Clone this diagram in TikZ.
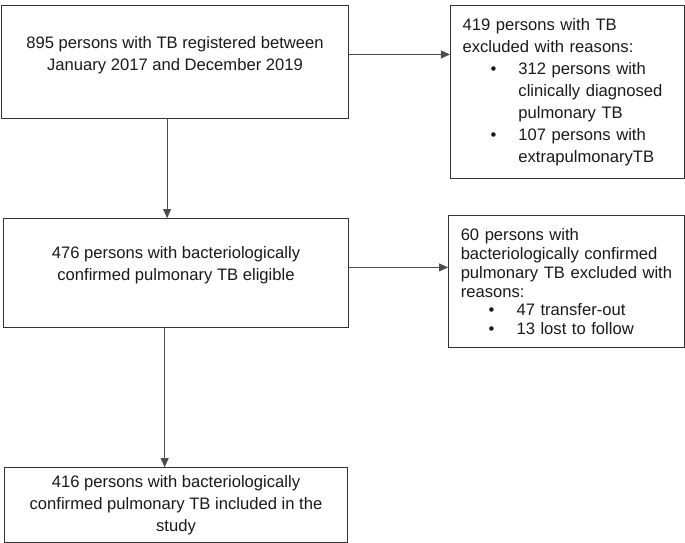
\documentclass[tikz,border=0pt]{standalone}
\usepackage{fontspec}
\setmainfont{Liberation Sans}
\usepackage{tikz}
\usetikzlibrary{
  arrows.meta,
  positioning,
  calc
}
\definecolor{fcLine}{HTML}{333333}
\definecolor{fcArrow}{HTML}{4D4D4D}
\definecolor{fcText}{HTML}{1A1A1A}
\newcommand{\fcitem}{\hspace*{21pt}\makebox[21pt][l]{\textbullet}}
\newcommand{\fchang}{\hspace*{42pt}}
\tikzset{
  fcnode/.style={
    draw=fcLine, line width=0.8pt, inner sep=0pt, text=fcText,
    font=\fontsize{12.5}{16.5}\selectfont
  },
  stepbox/.style={fcnode, align=center},
  exclbox/.style={fcnode, align=left, inner xsep=3.2mm},
  flow/.style={-{Triangle[length=2.4mm, width=2.1mm]}, line width=0.8pt, fcArrow}
}

\begin{document}
\begin{tikzpicture}[node distance=26mm]
  \useasboundingbox (0,0) rectangle (181.2mm,-143.4mm);
  \node[stepbox, anchor=north west, minimum width=91.8mm, minimum height=29.9mm, text depth=4.4mm] (reg) at (0.26mm,-1.32mm)
    {895 persons with TB registered between\\January 2017 and December 2019};
  \node[exclbox, text width=55.6mm, minimum height=45.8mm, right=26.7mm of reg.north east, anchor=north west] (excl1)
    {419 persons with TB\\
     excluded with reasons:\\
     \fcitem 312 persons with\\
     \fchang clinically diagnosed\\
     \fchang pulmonary TB\\
     \fcitem 107 persons with\\
     \fchang extrapulmonaryTB};
  \node[stepbox, minimum width=91.3mm, minimum height=28.8mm, text depth=5.2mm, below=26.2mm of reg.south east, anchor=north east] (elig)
    {476 persons with bacteriologically\\confirmed pulmonary TB eligible};
  \node[exclbox, text width=56.1mm, minimum height=34.9mm, font=\fontsize{12.5}{14.25}\selectfont, right=26.2mm of elig.north east, anchor=north west, yshift=0.8mm] (excl2)
    {60 persons with\\
     bacteriologically confirmed\\
     pulmonary TB excluded with\\
     reasons:\\
     \fcitem 47 transfer-out\\
     \fcitem 13 lost to follow};
  \node[stepbox, minimum width=90.5mm, minimum height=19.8mm, below=36.8mm of elig] (incl)
    {416 persons with bacteriologically\\confirmed pulmonary TB included in the\\study};
  \draw[flow] ([yshift=2mm]reg.east) -- ([yshift=2mm]reg.east -| excl1.west);
  \draw[flow] ([xshift=-2.1mm]reg.south) -- ([xshift=-2.1mm]reg.south |- elig.north);
  \draw[flow] ([yshift=1.5mm]elig.east) -- ([yshift=1.5mm]elig.east -| excl2.west);
  \draw[flow] ([xshift=-3mm]elig.south) -- ([xshift=-3mm]elig.south |- incl.north);
\end{tikzpicture}
\end{document}
